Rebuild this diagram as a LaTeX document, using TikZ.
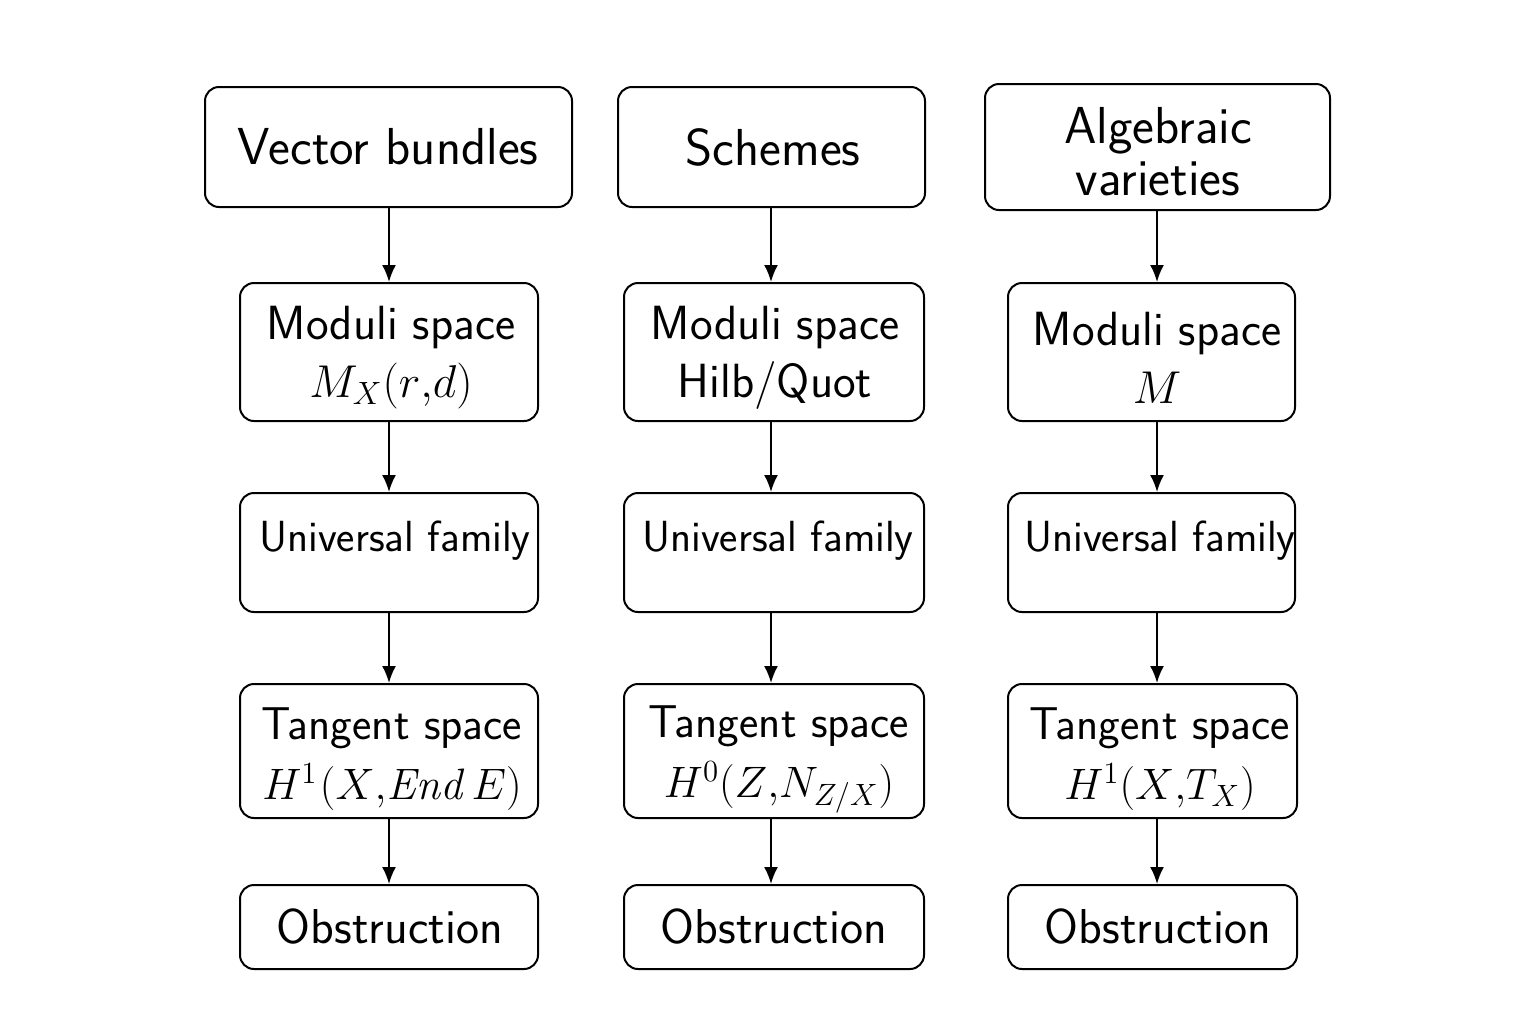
\RequirePackage{fix-cm}
\documentclass[tikz,border=0pt]{standalone}
\usetikzlibrary{arrows.meta}
\begin{document}
\begin{tikzpicture}[x=0.5pt,y=-0.5pt,
  box/.style={draw=black,line width=1pt,rounded corners=7pt,rectangle,inner sep=0pt,fill=white},
  txt/.style={font=\sffamily\fontsize{24}{29}\selectfont,align=center,inner sep=0pt},
  uni/.style={font=\sffamily\fontsize{21.8}{27}\selectfont,align=center,inner sep=0pt},
  tan/.style={font=\sffamily\fontsize{23}{29}\selectfont,align=center,inner sep=0pt},
  obs/.style={font=\sffamily\fontsize{24.5}{29}\selectfont,align=center,inner sep=0pt},
  head/.style={font=\sffamily\fontsize{26}{27}\selectfont,align=center,inner sep=0pt},
  arr/.style={line width=1pt,-{Latex[length=8.5pt,width=7pt]}}]
\useasboundingbox (0,0) rectangle (1536,1024);
\fill[white] (0,0) rectangle (1536,1024);
% column axes
\coordinate (a1) at (389,0);
\coordinate (a2) at (771,0);
\coordinate (a3) at (1157,0);
% column 1
\node[box,minimum width=183.5pt,minimum height=60pt] (v1) at (388.5,147) {};
\node[box,minimum width=149pt,minimum height=69pt] (m1) at (389,352) {};
\node[box,minimum width=149pt,minimum height=59.5pt] (u1) at (389,552.5) {};
\node[box,minimum width=149pt,minimum height=67pt] (t1) at (389,751) {};
\node[box,minimum width=149pt,minimum height=42pt] (o1) at (389,927) {};
% column 2
\node[box,minimum width=153.5pt,minimum height=60pt] (v2) at (771.5,147) {};
\node[box,minimum width=150pt,minimum height=69pt] (m2) at (774,352) {};
\node[box,minimum width=150pt,minimum height=59.5pt] (u2) at (774,552.5) {};
\node[box,minimum width=150pt,minimum height=67pt] (t2) at (774,751) {};
\node[box,minimum width=150pt,minimum height=42pt] (o2) at (774,927) {};
% column 3
\node[box,minimum width=172.5pt,minimum height=63pt] (v3) at (1157.5,147) {};
\node[box,minimum width=143.5pt,minimum height=69pt] (m3) at (1151.5,352) {};
\node[box,minimum width=143.5pt,minimum height=59.5pt] (u3) at (1151.5,552.5) {};
\node[box,minimum width=144.5pt,minimum height=67pt] (t3) at (1152.5,751) {};
\node[box,minimum width=144.5pt,minimum height=42pt] (o3) at (1152.5,927) {};
% texts
\node[head] (v1t) at (388,147) {Vector bundles};
\node[head] (v2t) at (773,147) {Schemes};
\node[head] (v3t) at (1158,152) {Algebraic\\[-1pt]varieties};
\node[txt] (m1t) at (391,358) {Moduli space\\{\fontsize{23}{29}\selectfont$M_X(r{,}d)$}};
\node[txt] (m2t) at (775,358) {Moduli space\\Hilb/Quot};
\node[txt] (m3t) at (1157,358) {Moduli space\\{\fontsize{23}{29}\selectfont$M$}};
\node[uni] (u1t) at (395,541) {Universal family};
\node[uni] (u2t) at (778,541) {Universal family};
\node[uni] (u3t) at (1160,541) {Universal family};
\node[tan] (t1t) at (392,759) {Tangent space\\[1pt]{\fontsize{22}{29}\selectfont$H^1\mkern1mu(X{,}\mathit{End}\mkern2mu E)$}};
\node[tan] (t2t) at (779,759) {Tangent space\\[1pt]{\fontsize{22}{29}\selectfont$H^0(Z{,}N_{Z/X})$}};
\node[tan] (t3t) at (1160,759) {Tangent space\\[1pt]{\fontsize{22}{29}\selectfont$H^1(X{,}T_X)$}};
\node[obs] (o1t) at (390,926) {Obstruction};
\node[obs] (o2t) at (774,926) {Obstruction};
\node[obs] (o3t) at (1158,926) {Obstruction};
% arrows
\foreach \c/\a in {1/a1,2/a2,3/a3}{
  \draw[arr] (v\c.south -| \a) -- (m\c.north -| \a);
  \draw[arr] (m\c.south -| \a) -- (u\c.north -| \a);
  \draw[arr] (u\c.south -| \a) -- (t\c.north -| \a);
  \draw[arr] (t\c.south -| \a) -- (o\c.north -| \a);
}
\end{tikzpicture}
\end{document}
